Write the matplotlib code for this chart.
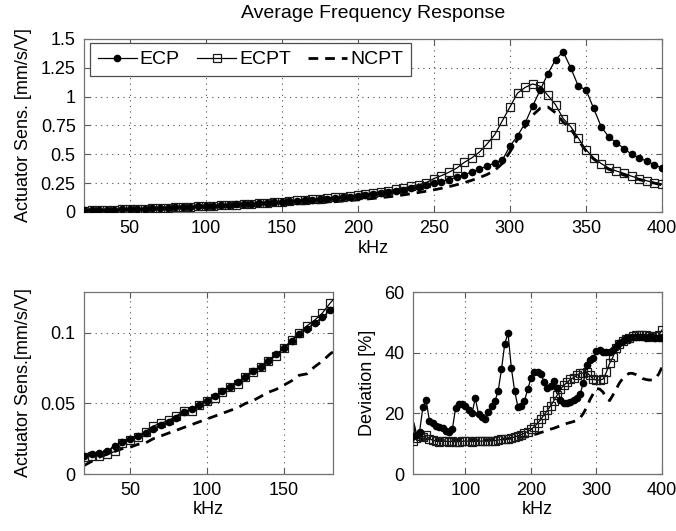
import numpy as np
import matplotlib
matplotlib.use("Agg")
import matplotlib.pyplot as plt

plt.rcParams['font.family'] = ['Liberation Sans', 'DejaVu Sans']

freq = np.arange(20, 401, 5)

# average actuator sensitivity [mm/s/V]
ecp_sens = [0.013, 0.014, 0.015, 0.016, 0.020, 0.023, 0.025, 0.027, 0.029, 0.032,
            0.035, 0.037, 0.040, 0.044, 0.046, 0.049, 0.052, 0.055, 0.059, 0.062,
            0.065, 0.069, 0.073, 0.076, 0.080, 0.085, 0.089, 0.094, 0.099, 0.103,
            0.107, 0.111, 0.116, 0.121, 0.127, 0.133, 0.140, 0.147, 0.155, 0.163,
            0.172, 0.182, 0.193, 0.205, 0.218, 0.232, 0.247, 0.263, 0.281, 0.301,
            0.323, 0.347, 0.372, 0.398, 0.425, 0.45, 0.57, 0.66, 0.77, 0.92,
            1.06, 1.20, 1.32, 1.39, 1.25, 1.09, 1.06, 0.90, 0.74, 0.65,
            0.60, 0.55, 0.50, 0.47, 0.44, 0.41, 0.38]
ecpt_sens = [0.012, 0.013, 0.013, 0.014, 0.016, 0.022, 0.024, 0.026, 0.030, 0.034,
             0.036, 0.038, 0.041, 0.045, 0.045, 0.049, 0.052, 0.054, 0.058, 0.062,
             0.064, 0.069, 0.072, 0.076, 0.080, 0.084, 0.089, 0.095, 0.100, 0.105,
             0.109, 0.114, 0.121, 0.127, 0.134, 0.141, 0.149, 0.157, 0.166, 0.175,
             0.185, 0.196, 0.208, 0.222, 0.237, 0.254, 0.29, 0.315, 0.345, 0.38,
             0.43, 0.47, 0.52, 0.59, 0.67, 0.79, 0.91, 1.03, 1.08, 1.11,
             1.09, 1.01, 0.93, 0.81, 0.74, 0.64, 0.54, 0.47, 0.42, 0.38,
             0.355, 0.335, 0.31, 0.29, 0.27, 0.255, 0.24]
ncpt_sens = [0.006, 0.009, 0.012, 0.014, 0.016, 0.018, 0.019, 0.021, 0.022, 0.025,
             0.027, 0.029, 0.031, 0.033, 0.035, 0.037, 0.039, 0.041, 0.043, 0.045,
             0.047, 0.050, 0.052, 0.055, 0.058, 0.060, 0.063, 0.066, 0.070, 0.071,
             0.076, 0.080, 0.085, 0.089, 0.094, 0.099, 0.105, 0.111, 0.117, 0.124,
             0.131, 0.139, 0.148, 0.158, 0.169, 0.180, 0.192, 0.205, 0.220, 0.236,
             0.254, 0.275, 0.298, 0.325, 0.36, 0.42, 0.52, 0.63, 0.74, 0.84,
             0.90, 0.91, 0.86, 0.78, 0.72, 0.62, 0.53, 0.46, 0.41, 0.37,
             0.345, 0.32, 0.30, 0.28, 0.265, 0.25, 0.235]

# deviation [%]
ecp_dev = [12.5, 13.0, 14.0, 22.0, 24.4, 17.5, 16.8, 15.8, 15.5, 15.2,
           14.3, 14.0, 14.8, 21.8, 23.0, 23.2, 22.5, 21.0, 20.0, 25.0,
           19.8, 18.8, 18.0, 20.5, 22.5, 24.0, 27.5, 34.5, 43.0, 46.4,
           35.0, 27.5, 22.2, 22.5, 24.0, 28.0, 31.5, 33.8, 33.5, 33.0,
           30.5, 28.5, 29.0, 30.8, 28.5, 24.5, 23.3, 23.5, 23.8, 24.3,
           25.0, 26.5, 30.0, 36.0, 37.5, 38.2, 40.5, 41.0, 40.2, 40.3,
           40.3, 40.8, 42.0, 43.2, 44.0, 44.7, 45.0, 45.3, 45.3, 45.3,
           45.1, 45.0, 45.2, 45.3, 45.0, 45.0, 44.7]
ecpt_dev = [10.8, 12.0, 12.5, 12.3, 12.8, 11.5, 11.2, 10.8, 10.7, 10.8,
            10.8, 10.7, 10.8, 10.6, 10.7, 10.8, 10.9, 10.8, 10.7, 10.8,
            10.8, 10.9, 10.8, 10.9, 11.0, 11.0, 11.2, 11.4, 11.5, 11.7,
            11.9, 12.2, 12.6, 13.0, 13.5, 14.0, 14.7, 15.6, 16.7, 18.0,
            19.5, 21.0, 22.5, 24.2, 26.0, 28.0, 29.2, 30.2, 31.2, 31.8,
            32.6, 33.2, 33.3, 33.5, 32.5, 31.2, 31.0, 31.0, 31.3, 33.5,
            36.5, 38.5, 41.5, 43.0, 44.0, 44.5, 45.0, 45.5, 45.8, 45.8,
            46.0, 46.0, 45.5, 45.3, 45.5, 45.8, 47.5]
ncpt_dev = [17.0, 12.5, 11.8, 11.6, 11.5, 11.5, 11.4, 11.3, 11.3, 11.2,
            11.2, 11.2, 11.2, 11.1, 11.1, 11.2, 11.2, 11.2, 11.1, 11.1,
            11.2, 11.2, 11.2, 11.3, 11.3, 11.4, 11.5, 11.5, 11.6, 11.7,
            11.8, 11.9, 12.0, 12.1, 12.2, 12.3, 12.5, 13.0, 13.3, 13.7,
            14.0, 14.4, 14.8, 15.1, 15.5, 15.9, 16.3, 16.7, 17.0, 17.3,
            17.7, 18.5, 20.0, 22.0, 24.5, 26.5, 28.2, 28.0, 27.0, 25.0,
            24.2, 26.0, 28.0, 30.0, 31.5, 32.5, 33.2, 33.2, 32.8, 32.2,
            31.5, 31.2, 31.0, 31.0, 31.5, 33.0, 35.2]

FS = 13


def style_axes(ax):
    ax.tick_params(direction='in', top=True, right=True, length=4, width=0.8,
                   color='0.35', labelsize=FS, pad=6)
    for s in ax.spines.values():
        s.set_color('0.45')
        s.set_linewidth(0.9)
    ax.grid(True, color='0.3', linestyle=(0, (1, 4)), linewidth=0.8)
    ax.set_axisbelow(True)


def draw(ax, x, a, b, c):
    ax.plot(x, b, '-', color='k', lw=0.9, marker='s', ms=5.5, mfc='none',
            mec='0.1', mew=0.9, label='ECPT', zorder=3)
    ax.plot(x, a, '-', color='k', lw=0.9, marker='o', ms=4.5, mfc='k',
            mec='k', label='ECP', zorder=4)
    ax.plot(x, c, color='k', lw=2, linestyle=(0, (3.5, 2.5)), label='NCPT', zorder=2)


fig = plt.figure(figsize=(6.76, 5.31), dpi=100)

# top: whole band
ax = fig.add_axes([0.1243, 0.6008, 0.855, 0.3258])
draw(ax, freq, ecp_sens, ecpt_sens, ncpt_sens)
ax.set_xlim(20, 400)
ax.set_ylim(0, 1.5)
ax.set_xticks([50, 100, 150, 200, 250, 300, 350, 400])
ax.set_yticks([0, 0.25, 0.5, 0.75, 1, 1.25, 1.5])
ax.set_yticklabels(['0', '0.25', '0.5', '0.75', '1', '1.25', '1.5'])
style_axes(ax)
ax.set_xlabel('kHz', fontsize=FS, labelpad=2)
ax.set_ylabel('Actuator Sens. [mm/s/V]', fontsize=FS, labelpad=6)
ax.set_title('Average Frequency Response', fontsize=14, pad=15)
h, l = ax.get_legend_handles_labels()
order = [1, 0, 2]
leg = ax.legend([h[i] for i in order], [l[i] for i in order], ncol=3,
                loc='upper left', bbox_to_anchor=(0.0104, 0.977), borderaxespad=0,
                fontsize=14, fancybox=False, framealpha=1, edgecolor='0.3',
                handlelength=2.0, handletextpad=0.15, columnspacing=0.9,
                borderpad=0.4)
leg.get_frame().set_linewidth(0.9)

# bottom left: low frequency detail
ax2 = fig.add_axes([0.1243, 0.1073, 0.3683, 0.3427])
draw(ax2, freq, ecp_sens, ecpt_sens, ncpt_sens)
ax2.set_xlim(20, 182)
ax2.set_ylim(0, 0.129)
ax2.set_xticks([50, 100, 150])
ax2.set_yticks([0, 0.05, 0.1])
ax2.set_yticklabels(['0', '0.05', '0.1'])
style_axes(ax2)
ax2.set_xlabel('kHz', fontsize=FS, labelpad=1)
ax2.set_ylabel('Actuator Sens.[mm/s/V]', fontsize=FS, labelpad=6)

# bottom right: deviation
ax3 = fig.add_axes([0.611, 0.1073, 0.3683, 0.3427])
draw(ax3, freq, ecp_dev, ecpt_dev, ncpt_dev)
ax3.set_xlim(20, 400)
ax3.set_ylim(0, 60)
ax3.set_xticks([100, 200, 300, 400])
ax3.set_yticks([0, 20, 40, 60])
style_axes(ax3)
ax3.set_xlabel('kHz', fontsize=FS, labelpad=1)
ax3.set_ylabel('Deviation [%]', fontsize=FS, labelpad=6)

fig.savefig('out.png', dpi=100)
